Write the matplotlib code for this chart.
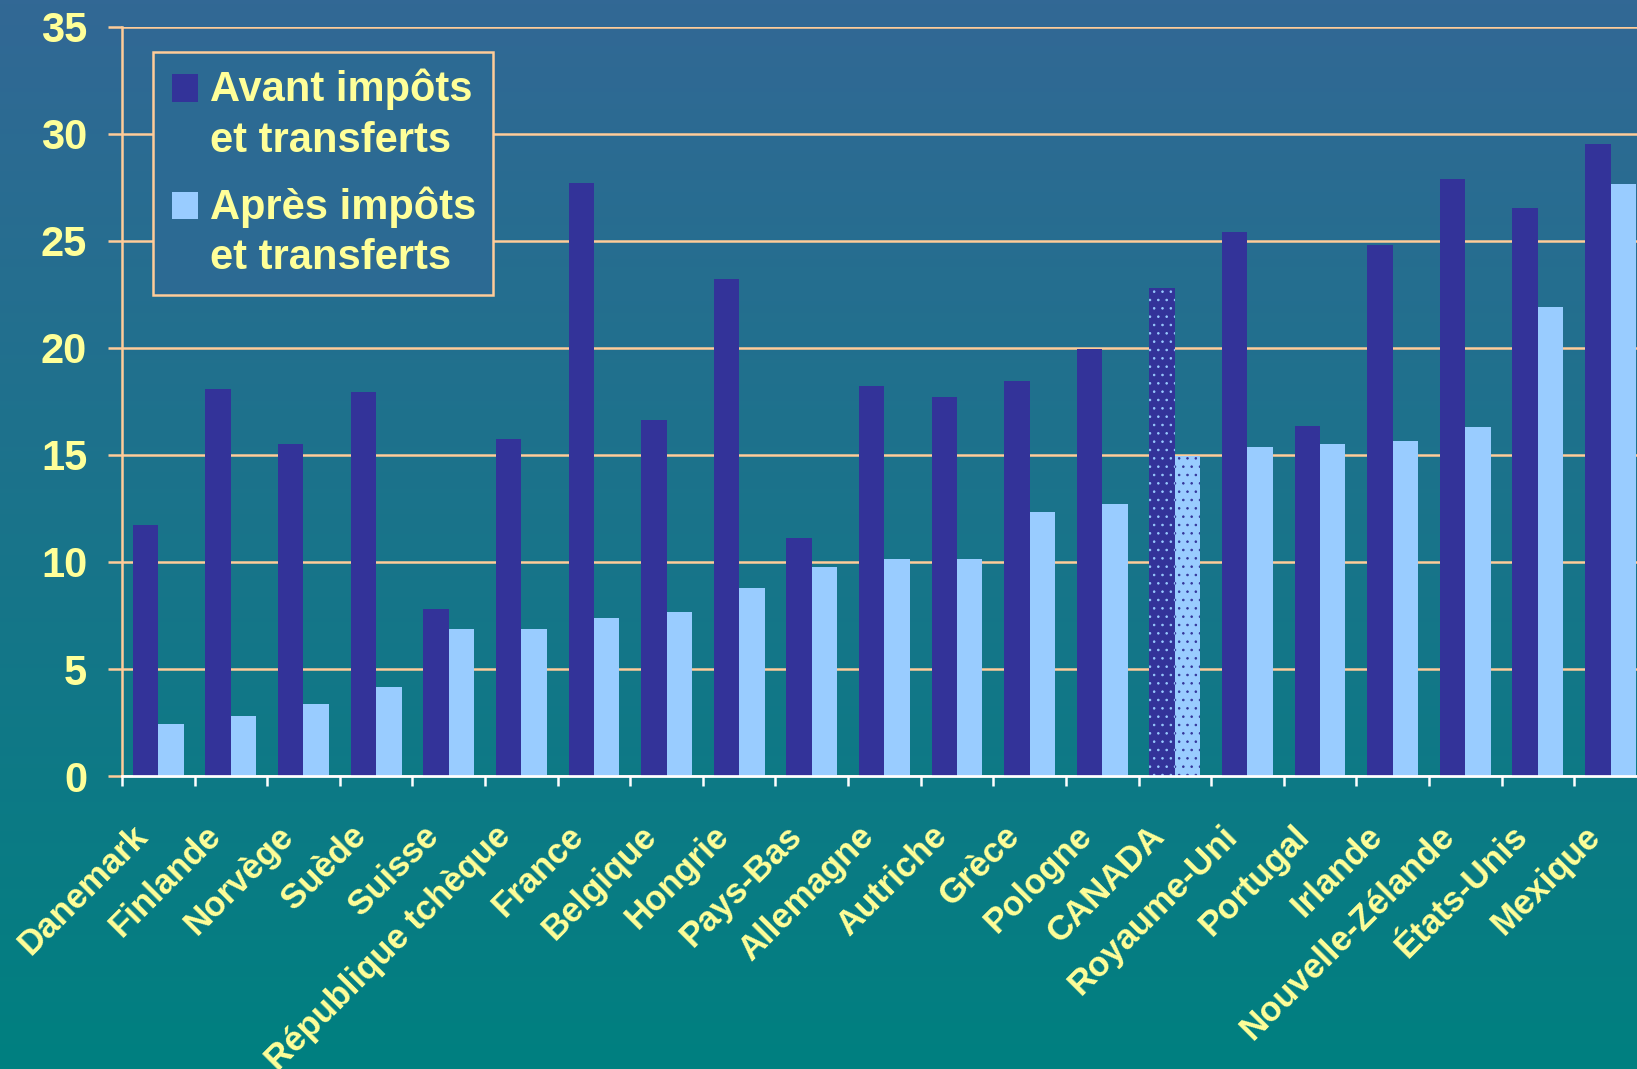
import numpy as np
import matplotlib
matplotlib.use("Agg")
import matplotlib.pyplot as plt
from matplotlib.colors import LinearSegmentedColormap
from matplotlib.patches import Patch, Rectangle
from matplotlib.legend_handler import HandlerPatch
from matplotlib.transforms import ScaledTranslation

# données
pays = ["Danemark", "Finlande", "Norvège", "Suède", "Suisse", "République tchèque",
        "France", "Belgique", "Hongrie", "Pays-Bas", "Allemagne", "Autriche", "Grèce",
        "Pologne", "CANADA", "Royaume-Uni", "Portugal", "Irlande", "Nouvelle-Zélande",
        "États-Unis", "Mexique"]
avant = [11.75, 18.1, 15.5, 17.95, 7.8, 15.75, 27.7, 16.65, 23.2, 11.1, 18.2, 17.7,
         18.45, 19.95, 22.8, 25.4, 16.35, 24.8, 27.9, 26.55, 29.5]
apres = [2.45, 2.8, 3.35, 4.15, 6.85, 6.85, 7.4, 7.65, 8.8, 9.75, 10.15, 10.15,
         12.35, 12.7, 14.95, 15.35, 15.5, 15.65, 16.3, 21.9, 27.65]
label_avant = "Avant impôts\net transferts"
label_apres = "Après impôts\net transferts"
pays_hachure = "CANADA"

# couleurs
c_avant = "#333399"
c_apres = "#99CCFF"
c_texte = "#FFFF99"
c_grille = "#FFCC99"
c_haut = "#326895"
c_bas = "#008080"

plt.rcParams['font.family'] = ['Liberation Sans', 'DejaVu Sans']
plt.rcParams['font.weight'] = 'bold'
plt.rcParams['hatch.linewidth'] = 0.6

fig = plt.figure(figsize=(16.37, 10.69), dpi=100)

# fond en dégradé
bg = fig.add_axes([0, 0, 1, 1], zorder=-10)
cmap_fond = LinearSegmentedColormap.from_list("fond", [c_haut, c_bas])
bg.imshow(np.linspace(0, 1, 256).reshape(-1, 1), cmap=cmap_fond, aspect='auto',
          extent=[0, 1, 0, 1])
bg.axis('off')

ax = fig.add_axes([0.0745, 0.274, 0.9315, 0.701])
ax.set_facecolor('none')

x = np.arange(len(pays))
w = 0.35
for i, p in enumerate(pays):
    if p == pays_hachure:
        ax.bar(x[i] - w / 2, avant[i], w, color=c_avant, edgecolor=c_apres,
               linewidth=0, hatch='..', zorder=3)
        ax.bar(x[i] + w / 2, apres[i], w, color=c_apres, edgecolor=c_avant,
               linewidth=0, hatch='..', zorder=3)
    else:
        ax.bar(x[i] - w / 2, avant[i], w, color=c_avant, linewidth=0, zorder=3)
        ax.bar(x[i] + w / 2, apres[i], w, color=c_apres, linewidth=0, zorder=3)

ax.set_xlim(-0.5, len(pays) - 0.5)
ax.set_ylim(0, 35)
ax.set_yticks(np.arange(0, 36, 5))
ax.yaxis.grid(True, color=c_grille, linewidth=1.8, zorder=1)
ax.set_axisbelow(True)

for s in ['top', 'right']:
    ax.spines[s].set_visible(False)
ax.spines['left'].set_color(c_grille)
ax.spines['left'].set_linewidth(1.8)
ax.spines['bottom'].set_color('white')
ax.spines['bottom'].set_linewidth(2)
ax.spines['bottom'].set_zorder(4)

ax.tick_params(axis='y', colors=c_grille, length=10, width=1.8, pad=15,
               labelsize=30, labelcolor=c_texte)
ax.set_xticks(x)
ax.set_xticks(np.arange(-0.5, len(pays), 1), minor=True)
ax.tick_params(axis='x', which='major', length=0, pad=31)
ax.tick_params(axis='x', which='minor', colors='white', length=7, width=1.8)
ax.set_xticklabels(pays, rotation=45, ha='right', rotation_mode='anchor',
                   fontsize=25, color=c_texte, fontweight='bold')
decalage = ScaledTranslation(-27 / 100, 0, fig.dpi_scale_trans)
for lab in ax.get_xticklabels():
    lab.set_transform(lab.get_transform() + decalage)
for lab in ax.get_yticklabels():
    lab.set_fontweight('bold')


# carré de légende aligné sur la première ligne du texte
def carre(legend, orig_handle, xdescent, ydescent, width, height, fontsize):
    return Rectangle((-xdescent + 0.05 * fontsize, -ydescent + 0.66 * fontsize),
                     width, height)


handles = [Patch(facecolor=c_avant, label=label_avant),
           Patch(facecolor=c_apres, label=label_apres)]
leg = ax.legend(handles=handles, loc='upper left', bbox_to_anchor=(0.0203, 0.966),
                borderaxespad=0, fontsize=30, handlelength=0.64, handleheight=0.64,
                handletextpad=0.34, labelspacing=0.62, borderpad=0.4,
                fancybox=False, framealpha=1, facecolor="#2c6a93",
                edgecolor=c_grille, handler_map={Patch: HandlerPatch(patch_func=carre)})
leg.get_frame().set_linewidth(1.8)
for t in leg.get_texts():
    t.set_color(c_texte)
    t.set_fontweight('bold')
    t.set_linespacing(1.33)

fig.savefig("out.png", dpi=100)
